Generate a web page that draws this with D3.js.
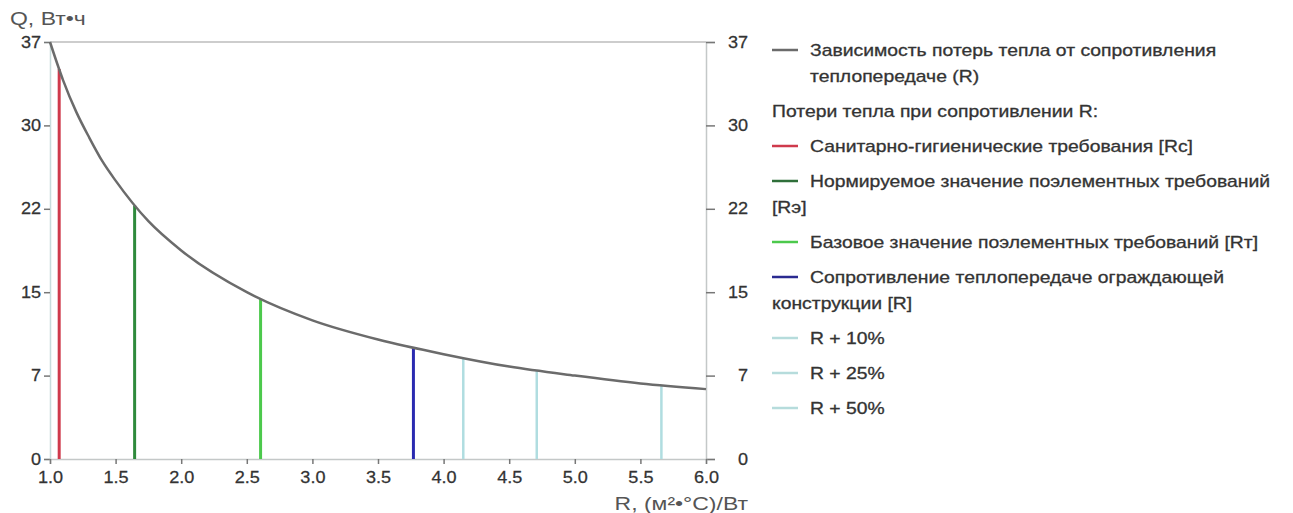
<!DOCTYPE html>
<html>
<head>
<meta charset="utf-8">
<script src="https://cdn.jsdelivr.net/npm/d3@7"></script>
<style>
    body { margin: 0; background: #fff; }
    svg { display: block; font-family: "Liberation Sans", Arial, sans-serif; }
    .tick text { fill: #333; font-size: 16px; stroke: #333; stroke-width: 0.25px; }
    .legend text { fill: #333; font-size: 16px; stroke: #333; stroke-width: 0.3px; }
    .axis-title { fill: #555; font-size: 19px; }
</style>
</head>
<body>
<svg id="chart" width="1293" height="513"></svg>
<script>
// Curve Q(R)
const rValues = [1.0, 1.1, 1.2, 1.3, 1.4, 1.5, 1.75, 2.0, 2.5, 3.0, 3.5, 4.0, 4.5, 5.0, 5.5, 6.0];
const qValues = [37.0, 33.6, 30.8, 28.5, 26.4, 24.7, 21.1, 18.5, 14.8, 12.3, 10.6, 9.3, 8.2, 7.4, 6.7, 6.2];

// Vertical markers: resistance and heat loss at that resistance
const markerNames = ["Rc", "Rэ", "Rт", "R", "R+10", "R+25", "R+50"];
const markerR = [1.07, 1.645, 2.605, 3.77, 4.15, 4.71, 5.66];
const markerQ = [34.6, 22.5, 14.2, 9.8, 8.9, 7.85, 6.54];
const markerColors = ["#cf3a4c", "#2f8a3c", "#4cc94c", "#2a2ab0", "#b0dde0", "#b0dde0", "#b0dde0"];

const xTicks = [1.0, 1.5, 2.0, 2.5, 3.0, 3.5, 4.0, 4.5, 5.0, 5.5, 6.0];
const yTicks = [0, 7.4, 14.8, 22.2, 29.6, 37];

const legendItems = [
    { color: "#6b6b6b", lines: ["Зависимость потерь тепла от сопротивления", "теплопередаче (R)"], indent: true },
    { color: null, lines: ["Потери тепла при сопротивлении R:"] },
    { color: "#cf3a4c", lines: ["Санитарно-гигиенические требования [Rc]"] },
    { color: "#2f6f3a", lines: ["Нормируемое значение поэлементных требований", "[Rэ]"] },
    { color: "#4cc94c", lines: ["Базовое значение поэлементных требований [Rт]"] },
    { color: "#2a2a90", lines: ["Сопротивление теплопередаче ограждающей", "конструкции [R]"] },
    { color: "#b6dcdc", lines: ["R + 10%"] },
    { color: "#b6dcdc", lines: ["R + 25%"] },
    { color: "#b6dcdc", lines: ["R + 50%"] }
];

// the reference lettering is wider than Liberation Sans
const textStretch = 1.21;
const tickStretch = 1.13;

const svg = d3.select("#chart");

const x = d3.scaleLinear().domain([1, 6]).range([50, 706]);
const y = d3.scaleLinear().domain([0, 37]).range([459, 42]);

function stretch(sel, k) {
    sel.each(function () {
        const t = d3.select(this);
        const tx = +t.attr("x") || 0;
        t.attr("x", tx / k).attr("transform", `scale(${k},1)`);
    });
}

// frame lines
svg.append("line")
    .attr("x1", x(1)).attr("x2", x(6))
    .attr("y1", y(37)).attr("y2", y(37))
    .attr("stroke", "#bdbdbd").attr("stroke-width", 1.5);

const left = svg.append("g")
    .attr("transform", `translate(${x(1)},0)`)
    .call(d3.axisLeft(y).tickValues(yTicks).tickFormat(d => Math.round(d)).tickSize(6).tickPadding(3));

const right = svg.append("g")
    .attr("transform", `translate(${x(6)},0)`)
    .call(d3.axisRight(y).tickValues(yTicks).tickFormat(d => Math.round(d)).tickSize(9).tickPadding(33));
right.selectAll(".tick text").attr("text-anchor", "end");

const bottom = svg.append("g")
    .attr("transform", `translate(0,${y(0)})`)
    .call(d3.axisBottom(x).tickValues(xTicks).tickFormat(d3.format(".1f")).tickSize(5).tickPadding(8));

[left, right, bottom].forEach(g => {
    g.select(".domain").attr("stroke", "#c4c8c8").attr("stroke-width", 1.5);
    g.selectAll(".tick line").attr("stroke", "#777").attr("stroke-width", 1.5);
    g.selectAll(".tick text").attr("font-family", null).attr("font-size", null);
    stretch(g.selectAll(".tick text"), tickStretch);
});
left.select(".domain").attr("stroke", "#c8dcdc");

// markers
const markers = markerR.map((r, i) => ({ name: markerNames[i], r, q: markerQ[i], color: markerColors[i] }));
svg.append("g").selectAll("line")
    .data(markers)
    .join("line")
    .attr("x1", d => x(d.r)).attr("x2", d => x(d.r))
    .attr("y1", y(0)).attr("y2", d => y(d.q))
    .attr("stroke", d => d.color)
    .attr("stroke-width", (d, i) => i < 4 ? 3 : 2.5);

// curve
const line = d3.line()
    .x(d => x(d[0]))
    .y(d => y(d[1]))
    .curve(d3.curveMonotoneX);

svg.append("path")
    .datum(rValues.map((r, i) => [r, qValues[i]]))
    .attr("d", line)
    .attr("fill", "none")
    .attr("stroke", "#6b6b6b")
    .attr("stroke-width", 2.5);

// axis titles
svg.append("text").attr("class", "axis-title")
    .attr("x", 10).attr("y", 25)
    .text("Q, Вт•ч")
    .call(stretch, textStretch);

svg.append("text").attr("class", "axis-title")
    .attr("x", 748).attr("y", 510)
    .attr("text-anchor", "end")
    .text("R, (м²•°C)/Вт")
    .call(stretch, textStretch);

// legend
const legend = svg.append("g").attr("class", "legend");
let ly = 50;
legendItems.forEach(item => {
    if (item.color) {
        legend.append("line")
            .attr("x1", 772).attr("x2", 798)
            .attr("y1", ly).attr("y2", ly)
            .attr("stroke", item.color).attr("stroke-width", 2.5);
    }
    item.lines.forEach((t, j) => {
        const tx = (j === 0 && item.color) || (j > 0 && item.indent) ? 810 : 772;
        legend.append("text")
            .attr("x", tx).attr("y", ly + j * 26)
            .attr("dy", "0.35em")
            .text(t)
            .call(stretch, textStretch);
    });
    ly += 35 + 26 * (item.lines.length - 1);
});
</script>
</body>
</html>
